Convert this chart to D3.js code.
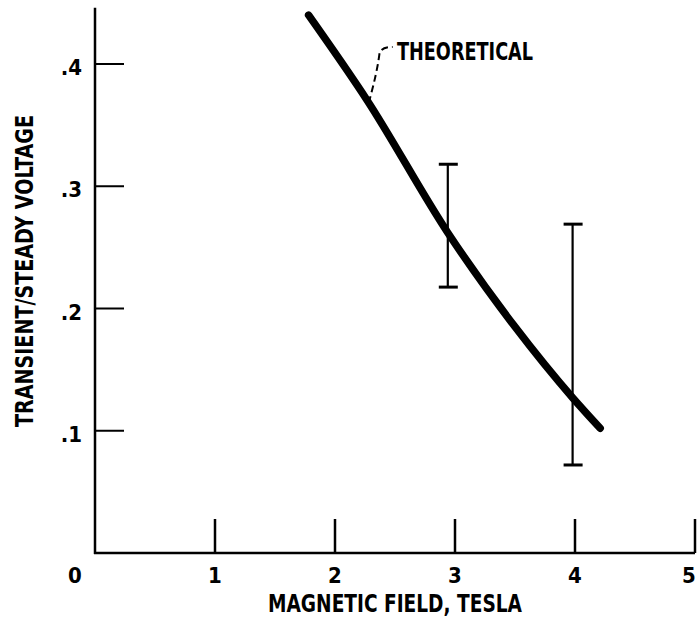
<!DOCTYPE html>
<html>
<head>
  <meta charset="utf-8">
  <title>Transient/steady voltage vs magnetic field</title>
  <script src="https://d3js.org/d3.v7.min.js"></script>
  <style>
    html, body { margin: 0; padding: 0; background: #fff; }
    svg { display: block; }
    .lbl {
      font-family: "Liberation Sans Narrow", "DejaVu Sans Condensed", "Arial Narrow", sans-serif;
      font-weight: bold;
      fill: #000;
    }
  </style>
</head>
<body>
  <svg width="698" height="620"></svg>
  <script>
    // theoretical curve
    const curveX = [1.78, 2.27, 2.94, 3.5, 3.98, 4.21];
    const curveY = [0.44, 0.37, 0.262, 0.185, 0.127, 0.102];

    // measured points with error ranges
    const barX = [2.94, 3.98];
    const barLow = [0.2175, 0.072];
    const barHigh = [0.318, 0.269];

    const xTicks = [1, 2, 3, 4, 5];
    const yTicks = [0.1, 0.2, 0.3, 0.4];

    const svg = d3.select("svg");

    const x = d3.scaleLinear().domain([0, 5]).range([95, 695]);
    const y = d3.scaleLinear().domain([0, 0.4]).range([553, 64]);

    // axes lines
    svg.append("line")
      .attr("x1", x(0)).attr("x2", x(0))
      .attr("y1", y(0) + 1).attr("y2", y(0.446))
      .attr("stroke", "#000").attr("stroke-width", 2.5);

    svg.append("line")
      .attr("x1", x(0) - 1).attr("x2", x(5))
      .attr("y1", y(0)).attr("y2", y(0))
      .attr("stroke", "#000").attr("stroke-width", 2.5);

    // x ticks point upward from the axis
    const xg = svg.append("g");
    xg.selectAll("line")
      .data(xTicks)
      .enter().append("line")
      .attr("x1", d => x(d)).attr("x2", d => x(d))
      .attr("y1", y(0)).attr("y2", y(0) - 34)
      .attr("stroke", "#000").attr("stroke-width", 2.5);

    xg.selectAll("text")
      .data(xTicks)
      .enter().append("text")
      .attr("class", "lbl")
      .attr("x", d => Math.min(x(d), 689))
      .attr("y", y(0) + 30)
      .attr("text-anchor", "middle")
      .attr("font-size", 22)
      .text(d => d);

    svg.append("text")
      .attr("class", "lbl")
      .attr("x", x(0) - 20)
      .attr("y", y(0) + 30)
      .attr("text-anchor", "middle")
      .attr("font-size", 22)
      .text("0");

    // y ticks point inward
    const yg = svg.append("g");
    yg.selectAll("line")
      .data(yTicks)
      .enter().append("line")
      .attr("x1", x(0)).attr("x2", x(0) + 29)
      .attr("y1", d => y(d)).attr("y2", d => y(d))
      .attr("stroke", "#000").attr("stroke-width", 2);

    yg.selectAll("text")
      .data(yTicks)
      .enter().append("text")
      .attr("class", "lbl")
      .attr("x", x(0) - 13)
      .attr("y", d => y(d) + 11)
      .attr("text-anchor", "end")
      .attr("font-size", 22)
      .text(d => "." + Math.round(d * 10));

    // axis titles
    svg.append("text")
      .attr("class", "lbl")
      .attr("x", 395)
      .attr("y", 612)
      .attr("text-anchor", "middle")
      .attr("font-size", 24)
      .attr("textLength", 254)
      .attr("lengthAdjust", "spacingAndGlyphs")
      .text("MAGNETIC FIELD, TESLA");

    svg.append("text")
      .attr("class", "lbl")
      .attr("transform", "translate(33,271) rotate(-90)")
      .attr("text-anchor", "middle")
      .attr("font-size", 24)
      .attr("textLength", 312)
      .attr("lengthAdjust", "spacingAndGlyphs")
      .text("TRANSIENT/STEADY VOLTAGE");

    // error bars
    const bars = barX.map((v, i) => ({ x: v, lo: barLow[i], hi: barHigh[i] }));
    const eb = svg.append("g").attr("stroke", "#000");
    eb.selectAll(".stem")
      .data(bars)
      .enter().append("line")
      .attr("x1", d => x(d.x)).attr("x2", d => x(d.x))
      .attr("y1", d => y(d.lo)).attr("y2", d => y(d.hi))
      .attr("stroke-width", 2.2);
    eb.selectAll(".capHi")
      .data(bars)
      .enter().append("line")
      .attr("x1", d => x(d.x) - 9).attr("x2", d => x(d.x) + 10)
      .attr("y1", d => y(d.hi)).attr("y2", d => y(d.hi))
      .attr("stroke-width", 3);
    eb.selectAll(".capLo")
      .data(bars)
      .enter().append("line")
      .attr("x1", d => x(d.x) - 9).attr("x2", d => x(d.x) + 10)
      .attr("y1", d => y(d.lo)).attr("y2", d => y(d.lo))
      .attr("stroke-width", 3);

    // theoretical curve
    const pts = curveX.map((v, i) => [v, curveY[i]]);
    const line = d3.line()
      .x(d => x(d[0]))
      .y(d => y(d[1]))
      .curve(d3.curveMonotoneX);

    svg.append("path")
      .attr("d", line(pts))
      .attr("fill", "none")
      .attr("stroke", "#000")
      .attr("stroke-width", 7.5)
      .attr("stroke-linecap", "round");

    // dashed leader from the curve to its label
    svg.append("path")
      .attr("d", `M${x(2.28)},${y(0.368)} C${x(2.33)},${y(0.385)} ${x(2.36)},${y(0.40)} ${x(2.37)},${y(0.408)} Q${x(2.38)},${y(0.414)} ${x(2.48)},${y(0.414)}`)
      .attr("fill", "none")
      .attr("stroke", "#000")
      .attr("stroke-width", 2)
      .attr("stroke-dasharray", "7,4");

    svg.append("text")
      .attr("class", "lbl")
      .attr("x", 397)
      .attr("y", 60)
      .attr("font-size", 25)
      .attr("textLength", 136)
      .attr("lengthAdjust", "spacingAndGlyphs")
      .text("THEORETICAL");
  </script>
</body>
</html>
